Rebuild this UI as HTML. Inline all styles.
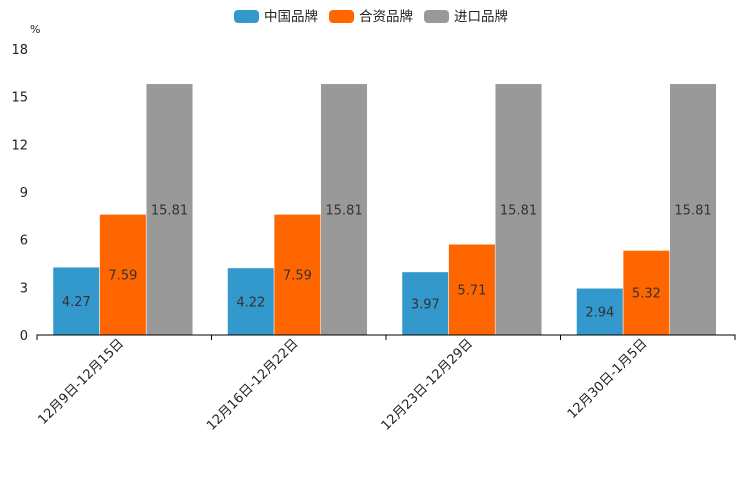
<!DOCTYPE html>
<html><head><meta charset="utf-8"><style>
body{margin:0;background:#fff;}
svg text{font-family:"DejaVu Sans","Noto Sans CJK SC",sans-serif;}
</style></head><body>
<svg id="c" width="744" height="496" xmlns="http://www.w3.org/2000/svg"></svg>
<script>
const categories=["12月9日-12月15日","12月16日-12月22日","12月23日-12月29日","12月30日-1月5日"];
const seriesNames=["中国品牌","合资品牌","进口品牌"];
const seriesColors=["#3399cc","#ff6600","#999999"];
const chinaVals=[4.27,4.22,3.97,2.94];
const jvVals=[7.59,7.59,5.71,5.32];
const importVals=[15.81,15.81,15.81,15.81];
const yTicks=[0,3,6,9,12,15,18];
const NS="http://www.w3.org/2000/svg";
const svg=document.getElementById('c');
const X0=37,X1=735,Y0=335,Y1=49,YMAX=18;
const y=v=>Y0-(Y0-Y1)*v/YMAX;
const gw=(X1-X0)/categories.length;
function el(t,a,txt){const e=document.createElementNS(NS,t);for(const k in a)e.setAttribute(k,a[k]);if(txt!==undefined)e.textContent=txt;svg.appendChild(e);return e;}
yTicks.forEach(t=>{const e=el('text',{x:28,y:y(t)+5,'text-anchor':'end','font-size':13,fill:'#222'},t);

});
const u=el('text',{x:30,y:33,'font-size':11,fill:'#222'},'%');


const series=[chinaVals,jvVals,importVals];
const bw=46.6,pad=16;
categories.forEach((c,i)=>{
 series.forEach((s,j)=>{
  const x=X0+i*gw+pad+j*bw;
  const r=el('rect',{x:x,y:y(s[i]),width:bw,height:Y0-y(s[i]),fill:seriesColors[j],stroke:'#fff','stroke-width':0.5});
  
  
  const t=el('text',{x:x+bw/2,y:(y(s[i])+Y0)/2+5,'text-anchor':'middle','font-size':13,fill:'#333'},s[i].toFixed(2));
  
  
 });
 const cx=X0+(i+0.5)*gw;
 const l=el('text',{x:0,y:0,'text-anchor':'end','font-size':13,fill:'#222',transform:`translate(${cx},${Y0+9}) rotate(-45)`},c);
 
 
});
const ax=el('path',{d:`M${X0},${Y0+5}V${Y0}H${X1}V${Y0+5}`+categories.map((c,i)=>`M${X0+i*gw},${Y0}V${Y0+5}`).join(''),stroke:'#000',fill:'none','stroke-width':1});


const lx=[234,329,424];
seriesNames.forEach((n,j)=>{
 const r=el('rect',{x:lx[j],y:10,width:25,height:13,rx:4,fill:seriesColors[j]});
 
 
 const t=el('text',{x:lx[j]+30,y:21,'font-size':13.5,fill:'#222'},n);
 
 
});
</script>
</body></html>
